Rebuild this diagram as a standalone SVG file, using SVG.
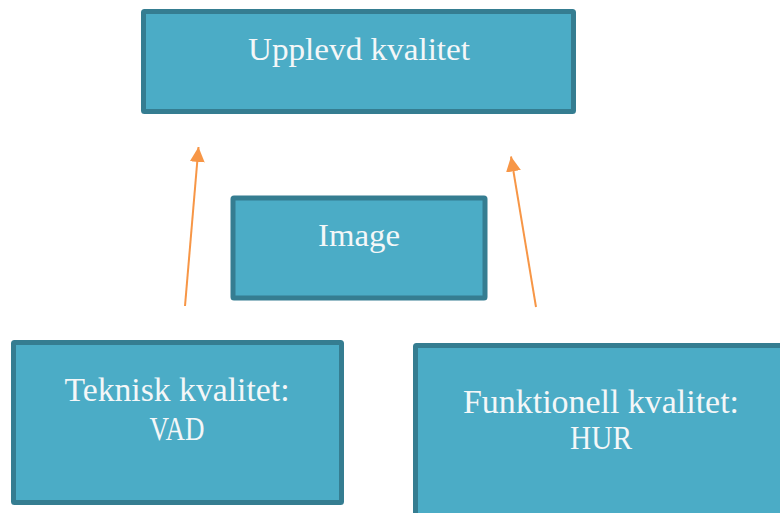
<svg xmlns="http://www.w3.org/2000/svg" width="780" height="513" viewBox="0 0 780 513">
<style>
.box{fill:#4BACC6;stroke:#357D91;stroke-width:5;}
.t{font-family:"Liberation Serif","DejaVu Serif",serif;fill:#F4F7F8;text-anchor:middle;}
.conn{stroke:#F79646;stroke-width:2;fill:none;marker-end:url(#ah);}
</style>
<defs>
<marker id="ah" markerUnits="userSpaceOnUse" markerWidth="16" markerHeight="16" viewBox="0 0 16 16" refX="15" refY="7.5" orient="auto">
<path d="M0,0 L15,7.5 L0,15 z" fill="#F79646"/>
</marker>
</defs>
<rect width="780" height="513" fill="#ffffff"/>
<g id="upplevd">
<rect class="box" x="143.5" y="11.5" width="430" height="100" rx="1"/>
<text class="t" x="359" y="60" font-size="31" textLength="222" lengthAdjust="spacingAndGlyphs">Upplevd kvalitet</text>
</g>
<g id="image">
<rect class="box" x="233" y="198" width="252" height="100" rx="1"/>
<text class="t" x="359" y="246" font-size="31" textLength="82" lengthAdjust="spacingAndGlyphs">Image</text>
</g>
<g id="teknisk">
<rect class="box" x="13.5" y="342.5" width="328" height="160" rx="1"/>
<text class="t" x="177" y="401" font-size="33" textLength="225" lengthAdjust="spacingAndGlyphs">Teknisk kvalitet:</text>
<text class="t" x="177" y="440" font-size="33" textLength="55" lengthAdjust="spacingAndGlyphs">VAD</text>
</g>
<g id="funktionell">
<rect class="box" x="415.5" y="345.5" width="400" height="200" rx="1"/>
<text class="t" x="601" y="413" font-size="33" textLength="276" lengthAdjust="spacingAndGlyphs">Funktionell kvalitet:</text>
<text class="t" x="601" y="449" font-size="33" textLength="62" lengthAdjust="spacingAndGlyphs">HUR</text>
</g>
<g id="connectors">
<line class="conn" x1="185" y1="306" x2="198.5" y2="147"/>
<line class="conn" x1="536" y1="307" x2="511" y2="156.5"/>
</g>
</svg>
